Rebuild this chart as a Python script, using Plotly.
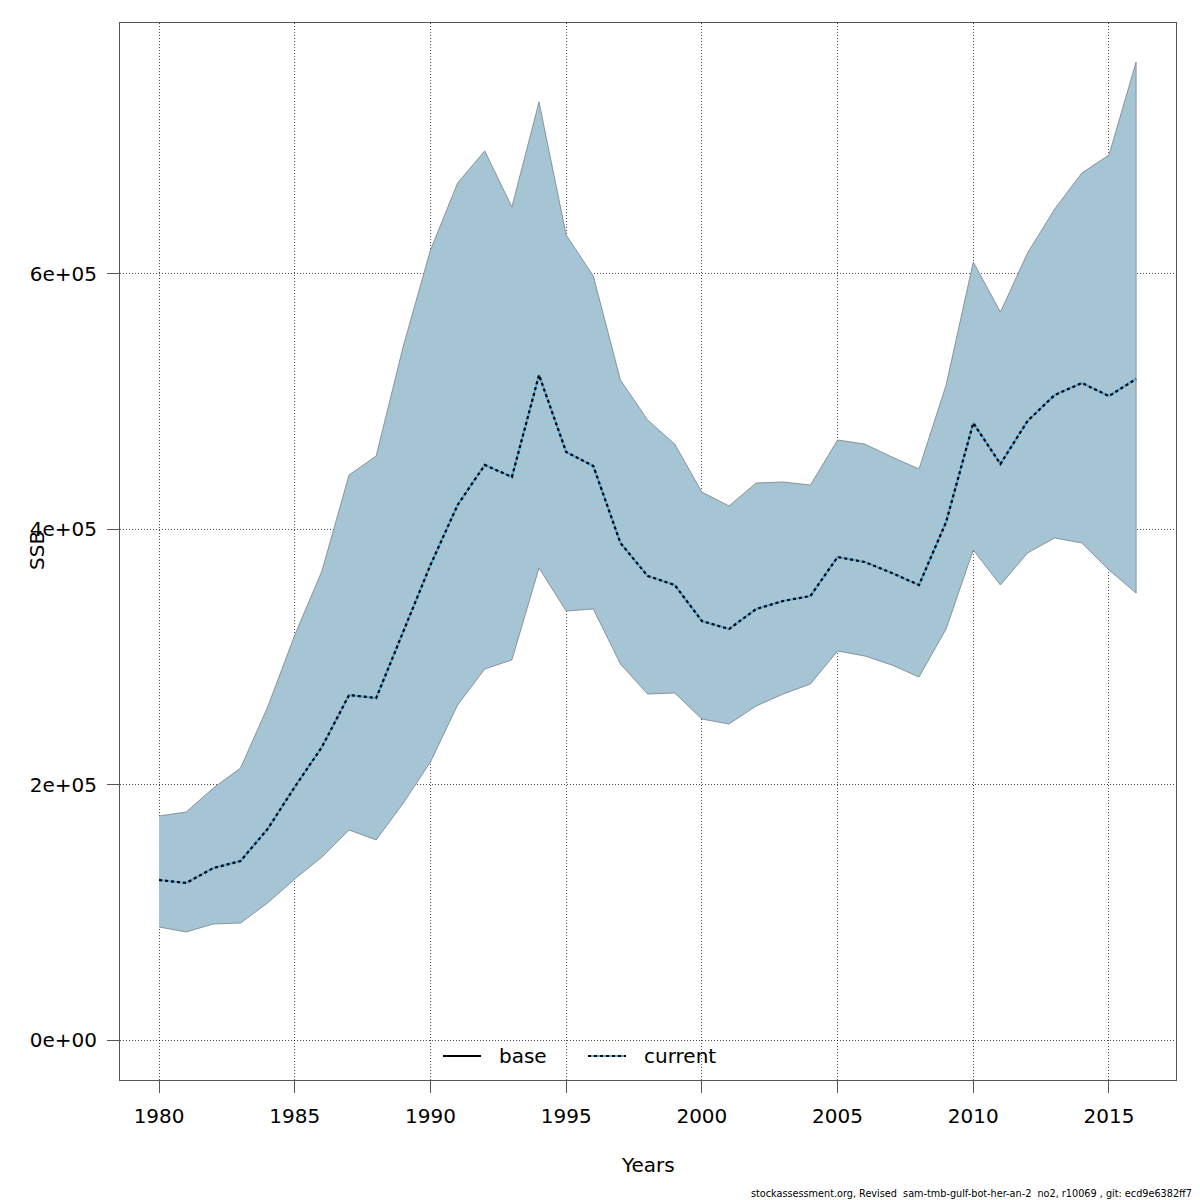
import plotly.graph_objects as go

years = list(range(1980, 2017))
ssb_upper = [175500, 178600, 197400, 213000, 260800, 317200, 367400, 442600, 457500, 543600,
             618800, 671300, 696400, 652500, 734800, 630600, 598500, 517000, 485700, 466800,
             429200, 418300, 436300, 437100, 434700, 470000, 466800, 456700, 447300, 513100,
             609400, 570200, 616500, 650900, 679100, 693200, 766000]
ssb_mean = [125300, 123000, 134700, 140200, 165300, 198200, 229500, 270200, 267900, 319600,
            372100, 419100, 450400, 441000, 520900, 460600, 449600, 389300, 363500, 356400,
            328200, 321900, 337600, 343900, 347800, 378300, 374400, 365800, 356400, 405800,
            483300, 451200, 484900, 505200, 514600, 504400, 517800]
ssb_lower = [88500, 84600, 90900, 91600, 107300, 126100, 143300, 164500, 156700, 185600,
             217800, 262400, 290600, 297700, 369700, 336000, 337600, 294500, 271000, 271800,
             251400, 247500, 261600, 271000, 278900, 304700, 300800, 293700, 284300, 321900,
             383800, 356400, 381500, 393200, 389300, 368200, 350100]
x_ticks = [1980, 1985, 1990, 1995, 2000, 2005, 2010, 2015]
y_ticks = [0, 200000, 400000, 600000]
y_tick_labels = ["0e+00", "2e+05", "4e+05", "6e+05"]
legend_names = ["base", "current"]

FONT = "DejaVu Sans"
OFF = 8  # page body margin offset
fig = go.Figure()

# confidence band
fig.add_trace(go.Scatter(
    x=years + years[::-1], y=ssb_upper + ssb_lower[::-1],
    mode="lines", fill="toself", fillcolor="rgb(165,196,212)",
    line=dict(color="rgba(120,130,135,0.8)", width=1),
    showlegend=False, hoverinfo="skip"))

# current (light blue) under black dotted base
fig.add_trace(go.Scatter(x=years, y=ssb_mean, mode="lines",
                         line=dict(color="rgb(90,170,220)", width=2.2),
                         showlegend=False))
fig.add_trace(go.Scatter(x=years, y=ssb_mean, mode="lines",
                         line=dict(color="black", width=2.2, dash="3px,3px"),
                         showlegend=False))

L, R, T, B = 120 - OFF, 24 + OFF, 23 - OFF, 120 + OFF
W = 1200 - L - R
H = 1200 - T - B

def px(xp):
    # xp in reference page pixels
    return (xp - OFF - L) / W

def py(yp):
    return (1200 - B - (yp - OFF)) / H

shapes = []
annotations = []
# manual legend
ly = py(1056)
shapes.append(dict(type="line", xref="paper", yref="paper", x0=px(443), x1=px(481), y0=ly, y1=ly,
                   line=dict(color="black", width=2)))
shapes.append(dict(type="line", xref="paper", yref="paper", x0=px(588), x1=px(626), y0=ly, y1=ly,
                   line=dict(color="rgb(90,170,220)", width=2.2)))
shapes.append(dict(type="line", xref="paper", yref="paper", x0=px(588), x1=px(626), y0=ly, y1=ly,
                   line=dict(color="black", width=2.2, dash="3px,3px")))
annotations.append(dict(text=legend_names[0], xref="paper", yref="paper", x=px(497), y=ly,
                        xanchor="left", yanchor="middle", showarrow=False,
                        font=dict(family=FONT, size=20, color="black")))
annotations.append(dict(text=legend_names[1], xref="paper", yref="paper", x=px(642), y=ly,
                        xanchor="left", yanchor="middle", showarrow=False,
                        font=dict(family=FONT, size=20, color="black")))
# axis titles
annotations.append(dict(text="Years", xref="paper", yref="paper", x=px(648), y=py(1165),
                        xanchor="center", yanchor="middle", showarrow=False,
                        font=dict(family=FONT, size=20, color="black")))
annotations.append(dict(text="SSB", xref="paper", yref="paper", x=px(37), y=py(551),
                        xanchor="center", yanchor="middle", showarrow=False, textangle=-90,
                        font=dict(family=FONT, size=20, color="black")))
# footer
annotations.append(dict(text="stockassessment.org, Revised  sam-tmb-gulf-bot-her-an-2  no2, r10069 , git: ecd9e6382ff7",
                        xref="paper", yref="paper", x=px(1194), y=py(1193),
                        xanchor="right", yanchor="middle", showarrow=False,
                        font=dict(family=FONT, size=9.7, color="black")))

fig.update_layout(
    width=1200, height=1200,
    margin=dict(l=L, r=R, t=T, b=B, pad=0),
    paper_bgcolor="white", plot_bgcolor="white",
    showlegend=False,
    shapes=shapes, annotations=annotations,
    font=dict(family=FONT, size=20, color="black"),
)
axis_common = dict(ticks="outside", ticklen=12, tickcolor="#555", showline=True, linecolor="#555",
                   linewidth=1, mirror=True, showgrid=True, gridcolor="rgba(0,0,0,0.7)",
                   griddash="1px,2px", gridwidth=1, zeroline=False, ticklabelstandoff=6,
                   tickfont=dict(family=FONT, size=20))
fig.update_xaxes(range=[1978.56, 2017.47], tickvals=x_ticks, **axis_common)
fig.update_yaxes(range=[-31330, 796600], tickvals=y_ticks, ticktext=y_tick_labels, **axis_common)

fig.write_html("out.html")
